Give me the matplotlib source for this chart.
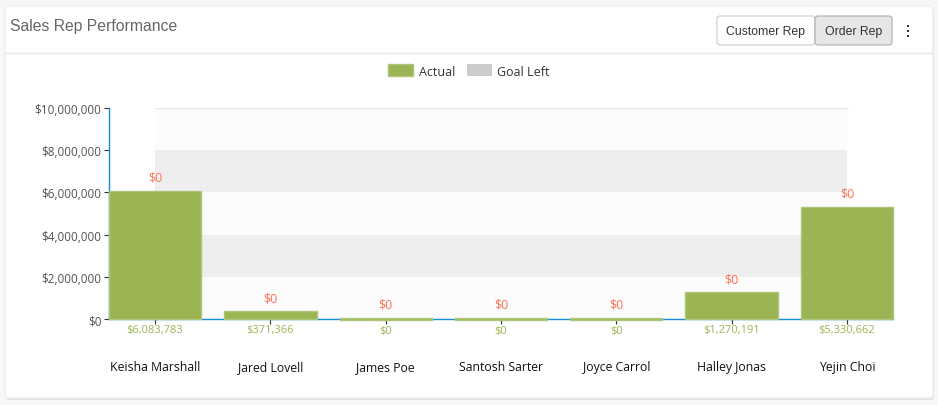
import numpy as np
import matplotlib
matplotlib.use("Agg")
import matplotlib.pyplot as plt
from matplotlib.patches import FancyBboxPatch
from matplotlib.ticker import FuncFormatter

reps = ["Keisha Marshall", "Jared Lovell", "James Poe", "Santosh Sarter",
        "Joyce Carrol", "Halley Jonas", "Yejin Choi"]
actual = [6083783, 371366, 0, 0, 0, 1270191, 5330662]
goal_left = [0, 0, 0, 0, 0, 0, 0]
y_ticks = [0, 2000000, 4000000, 6000000, 8000000, 10000000]

green = "#9bb555"
red = "#ff6f50"
blue = "#128de0"

W, H = 938, 406
plt.rcParams["font.family"] = ["Open Sans", "DejaVu Sans"]
fig = plt.figure(figsize=(W / 100, H / 100), dpi=100, facecolor="#f7f7f7")

# card / header drawn in pixel coordinates
bg = fig.add_axes([0, 0, 1, 1])
bg.set_xlim(0, W)
bg.set_ylim(H, 0)
bg.axis("off")
bg.add_patch(FancyBboxPatch((6, 9), 928, 392, boxstyle="round,pad=0,rounding_size=3",
                            fc="#e2e2e2", ec="none"))
bg.add_patch(FancyBboxPatch((5, 7), 928, 392, boxstyle="round,pad=0,rounding_size=3",
                            fc="white", ec="#ebebeb", lw=0.8))
bg.plot([5, 933], [54, 54], c="#e6e6e6", lw=1)
bg.text(10, 26, "Sales Rep Performance", fontsize=11.3, color="#666666",
        family="Liberation Sans", va="center")
bg.add_patch(FancyBboxPatch((717, 17), 98, 29, boxstyle="round,pad=0,rounding_size=3",
                            fc="white", ec="#cccccc", lw=0.8))
bg.add_patch(FancyBboxPatch((815, 17), 77, 29, boxstyle="round,pad=0,rounding_size=3",
                            fc="#e6e6e6", ec="#adadad", lw=0.8))
bg.text(766, 31.5, "Customer Rep", fontsize=8.8, color="#333333",
        family="Liberation Sans", ha="center", va="center")
bg.text(853.5, 31.5, "Order Rep", fontsize=8.8, color="#333333",
        family="Liberation Sans", ha="center", va="center")
bg.plot([908, 908, 908], [26.5, 31.5, 36.5], ls="none", marker="s", ms=1.9,
        mew=0, c="#333333")

# chart
ax = fig.add_axes([109 / W, 1 - 320 / H, 784 / W, 211 / H])
ax.set_facecolor("none")
x = np.arange(len(reps))

for i in range(len(y_ticks) - 1):
    ax.fill_between([x[0], x[-1]], y_ticks[i], y_ticks[i + 1],
                    color="#eeeeee" if i % 2 else "#fcfcfc", lw=0, zorder=0)
ax.plot([x[0], x[-1]], [y_ticks[-1]] * 2, color="#e6e6e6", lw=1, zorder=0)

# zero values still get a thin visible bar across the baseline
floor = 70000
bottoms = [-floor if v == 0 else 0 for v in actual]
heights = [2 * floor if v == 0 else v for v in actual]
tops = [b + h for b, h in zip(bottoms, heights)]
b1 = ax.bar(x, heights, 0.8, bottom=bottoms, color=green, edgecolor="#adc57a",
            lw=1.0, zorder=3, clip_on=False, label="Actual")
b2 = ax.bar(x, goal_left, 0.8, bottom=tops, color="#cccccc", lw=0, zorder=3,
            label="Goal Left")

for xi, t, b, a, g in zip(x, tops, bottoms, actual, goal_left):
    ax.annotate(f"${g:,}", (xi, t + g), xytext=(0, 9.5), textcoords="offset points",
                ha="center", va="center", color=red, fontsize=9, annotation_clip=False)
    ax.annotate(f"${a:,}", (xi, b), xytext=(0, -7.3), textcoords="offset points",
                ha="center", va="center", color=green, fontsize=8, annotation_clip=False)

ax.set_xlim(-0.4, 6.4)
ax.set_ylim(0, y_ticks[-1])
ax.set_yticks(y_ticks)
ax.yaxis.set_major_formatter(FuncFormatter(lambda v, p: f"${v:,.0f}"))
ax.set_xticks(x)
ax.set_xticklabels(reps)
for s in ["top", "right"]:
    ax.spines[s].set_visible(False)
for s in ["left", "bottom"]:
    ax.spines[s].set_color(blue)
    ax.spines[s].set_linewidth(1)
ax.tick_params(axis="y", length=3.5, width=0.8, color="#333333", labelcolor="#555555",
               labelsize=8.5, pad=2)
ax.tick_params(axis="x", length=3.5, width=0.8, color="#333333", labelcolor="#111111",
               labelsize=8.8, pad=26)

fig.legend([b1, b2], ["Actual", "Goal Left"], loc="center", bbox_to_anchor=(0.5, 1 - 72 / H),
           ncol=2, frameon=False, fontsize=9, handlelength=2.0, handleheight=1.1,
           columnspacing=0.9, handletextpad=0.45, labelcolor="#333333")

fig.savefig("out.png", dpi=100, facecolor=fig.get_facecolor())
